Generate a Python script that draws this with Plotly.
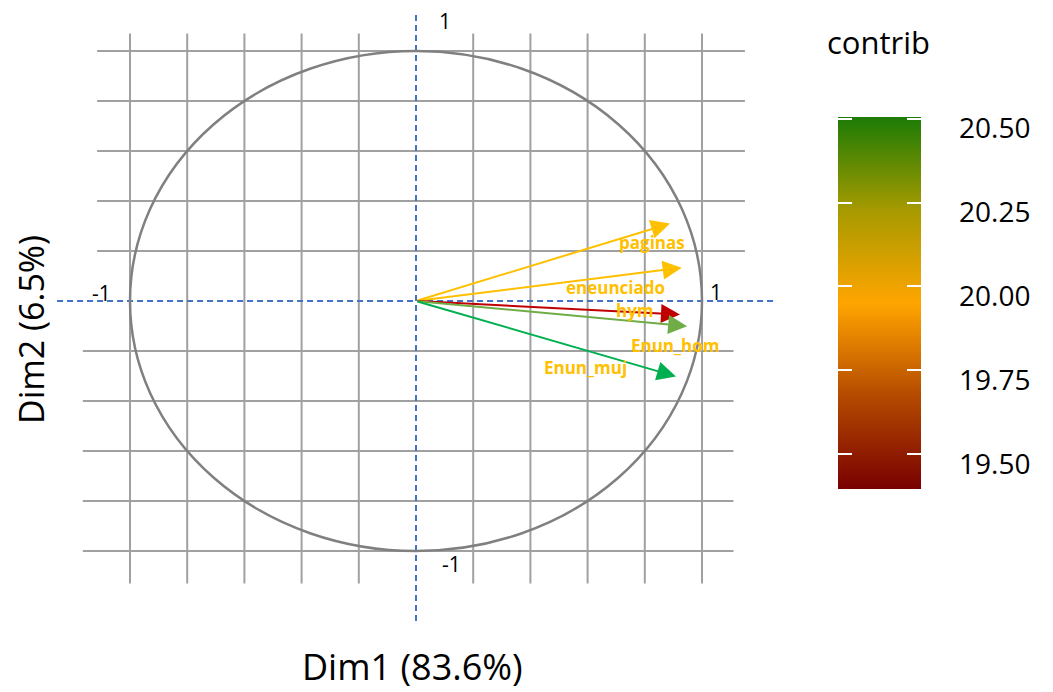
import plotly.graph_objects as go

# ---------------- data ----------------
variables = ["paginas", "eneunciado", "hym", "Enun_hom", "Enun_muj"]
dim1 = [0.888, 0.929, 0.923, 0.948, 0.909]
dim2 = [0.310, 0.133, -0.054, -0.101, -0.302]
contrib = [20.08, 20.10, 19.42, 20.30, 20.48]

grid_ticks = [-1.0, -0.8, -0.6, -0.4, -0.2, 0.2, 0.4, 0.6, 0.8, 1.0]
axis_tick_text = ["1", "-1", "-1", "1"]
cbar_tickvals = [19.50, 19.75, 20.00, 20.25, 20.50]
cbar_ticktext = ["19.50", "19.75", "20.00", "20.25", "20.50"]
contrib_min, contrib_max = 19.396, 20.505

x_title = "Dim1 (83.6%)"
y_title = "Dim2 (6.5%)"
cbar_title = "contrib"

# ---------------- styles ----------------
W, H = 1053, 692
arrow_colors = ["#FFC000", "#FFC000", "#C00000", "#70AD47", "#00B050"]
label_color = "#FFC000"
label_shift = [(-18, -19), (-66, -20), (-45, 4), (-12, -19), (-90, 9)]
grid_color = "#A0A0A0"
axis_dash_color = "#4472C4"
circle_color = "#808080"
colorscale = [
    [0.0, "#790000"],
    [0.25, "#B44A00"],
    [0.5, "#FFA500"],
    [0.75, "#A69A00"],
    [1.0, "#1C7B06"],
]
clear_scale = [[0, "rgba(0,0,0,0)"], [1, "rgba(0,0,0,0)"]]
FONT = "Open Sans"

# pixel mapping: x_px = 416 + 286*x ; y_px = 301 - 250*y
XR = [-416 / 286, (W - 416) / 286]
YR = [-(H - 301) / 250, 301 / 250]

fig = go.Figure()


def cbar_trace(cb, scale):
    return go.Scatter(
        x=dim1, y=dim2, mode="markers", hoverinfo="skip",
        marker=dict(size=1, opacity=0, color=contrib, colorscale=scale,
                    cmin=contrib_min, cmax=contrib_max, showscale=True,
                    colorbar=cb))


# main colour bar
fig.add_trace(cbar_trace(dict(
    x=838 / W, xanchor="left", xpad=0, ypad=0,
    y=1 - 303 / H, yanchor="middle",
    len=372, lenmode="pixels", thickness=83, outlinewidth=0,
    tickvals=cbar_tickvals, showticklabels=False, ticks="",
), colorscale))
# white tick marks on the left and right edges of the bar
for xpx in (838, 907):
    fig.add_trace(cbar_trace(dict(
        x=xpx / W, xanchor="left", xpad=0, ypad=0,
        y=1 - 303 / H, yanchor="middle",
        len=372, lenmode="pixels", thickness=0, outlinewidth=0,
        tickvals=cbar_tickvals, showticklabels=False,
        ticks="outside", ticklen=14, tickwidth=2, tickcolor="white",
    ), clear_scale))
# tick labels (set slightly below their ticks, as in the reference)
fig.add_trace(cbar_trace(dict(
    x=921 / W, xanchor="left", xpad=0, ypad=0,
    y=1 - 313 / H, yanchor="middle",
    len=372, lenmode="pixels", thickness=0, outlinewidth=0,
    tickvals=cbar_tickvals, ticktext=cbar_ticktext,
    ticks="outside", ticklen=33, tickcolor="rgba(0,0,0,0)",
    tickfont=dict(family=FONT, size=28, color="black"),
), clear_scale))

shapes = []
# grid lines (horizontal)
for g in grid_ticks:
    if g > 0:
        x0, x1 = -1.115, 1.15
    else:
        x0, x1 = -1.165, 1.11
    shapes.append(dict(type="line", xref="x", yref="y", x0=x0, x1=x1, y0=g, y1=g,
                       line=dict(color=grid_color, width=2), layer="below"))
# grid lines (vertical)
for g in grid_ticks:
    shapes.append(dict(type="line", xref="x", yref="y", x0=g, x1=g, y0=-1.13, y1=1.07,
                       line=dict(color=grid_color, width=2), layer="below"))
# dashed axes
shapes.append(dict(type="line", xref="x", yref="y", x0=-1.255, x1=1.255, y0=0, y1=0,
                   line=dict(color=axis_dash_color, width=2, dash="6px,4px")))
shapes.append(dict(type="line", xref="x", yref="y", x0=0, x1=0, y0=-1.28, y1=1.156,
                   line=dict(color=axis_dash_color, width=2, dash="6px,4px")))
# correlation circle
shapes.append(dict(type="circle", xref="x", yref="y", x0=-1, x1=1, y0=-1, y1=1,
                   line=dict(color=circle_color, width=2.5)))

annotations = []
# arrows
for xv, yv, c in zip(dim1, dim2, arrow_colors):
    annotations.append(dict(x=xv, y=yv, ax=0, ay=0, xref="x", yref="y",
                            axref="x", ayref="y", text="", showarrow=True,
                            arrowhead=2, arrowsize=1.9, arrowwidth=2,
                            arrowcolor=c, standoff=0))
# variable labels
for name, xv, yv, (dx, dy) in zip(variables, dim1, dim2, label_shift):
    annotations.append(dict(x=xv, y=yv, xref="x", yref="y", text="<b>" + name + "</b>",
                            showarrow=False, xshift=dx, yshift=dy,
                            xanchor="center", yanchor="middle",
                            font=dict(family=FONT, size=17, color=label_color)))
# axis end labels
end_pos = [(0, 1, 29, 30), (0, -1, 35, -13), (-1, 0, -29, 8), (1, 0, 14, 9)]
for t, (xv, yv, dx, dy) in zip(axis_tick_text, end_pos):
    annotations.append(dict(x=xv, y=yv, xref="x", yref="y", text=t, showarrow=False,
                            xshift=dx, yshift=dy, xanchor="center", yanchor="middle",
                            font=dict(family=FONT, size=21, color="black")))
# axis titles
annotations.append(dict(x=412 / W, y=1 - 666 / H, xref="paper", yref="paper",
                        text=x_title, showarrow=False, xanchor="center", yanchor="middle",
                        borderpad=0,
                        font=dict(family=FONT, size=36, color="black")))
annotations.append(dict(x=31 / W, y=1 - 330 / H, xref="paper", yref="paper",
                        text=y_title, showarrow=False, textangle=-90,
                        xanchor="center", yanchor="middle",
                        font=dict(family=FONT, size=34, color="black")))
# colour bar title
annotations.append(dict(x=878 / W, y=1 - 42 / H, xref="paper", yref="paper",
                        text=cbar_title, showarrow=False, xanchor="center", yanchor="middle",
                        font=dict(family=FONT, size=31, color="black")))

fig.update_layout(
    width=W, height=H, margin=dict(l=0, r=0, t=0, b=0),
    paper_bgcolor="white", plot_bgcolor="white", showlegend=False,
    xaxis=dict(range=XR, visible=False, fixedrange=True),
    yaxis=dict(range=YR, visible=False, fixedrange=True),
    shapes=shapes, annotations=annotations,
)

fig.write_html("out.html")
